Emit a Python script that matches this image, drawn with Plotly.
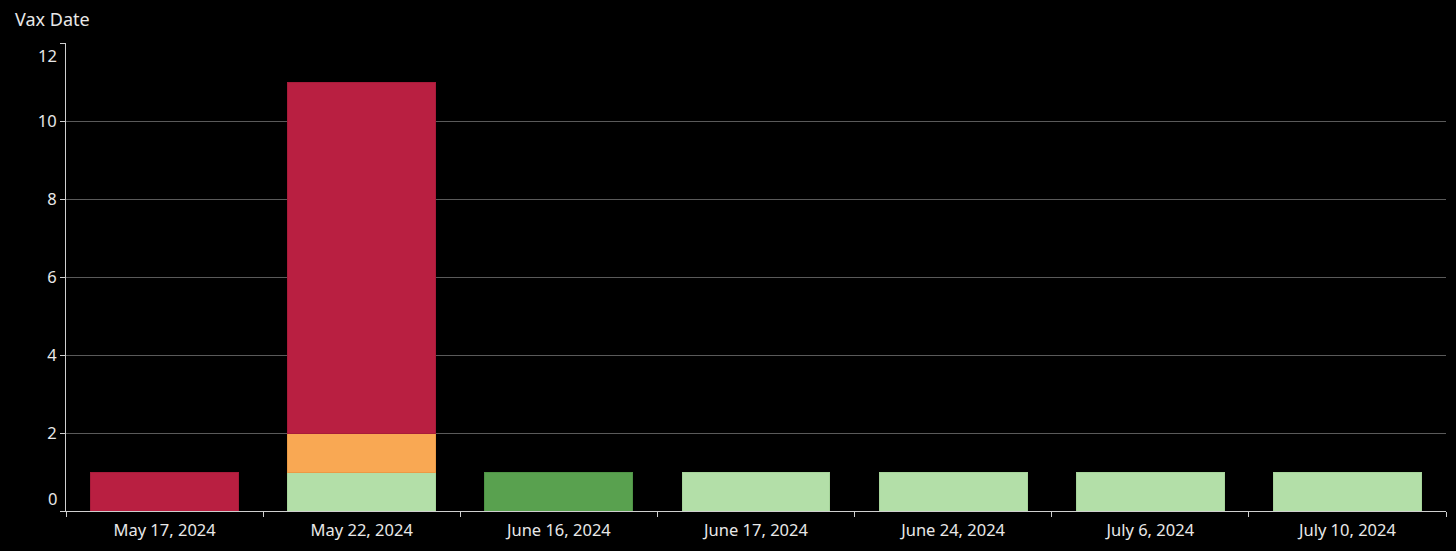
import plotly.graph_objects as go

categories = ["May 17, 2024", "May 22, 2024", "June 16, 2024", "June 17, 2024",
              "June 24, 2024", "July 6, 2024", "July 10, 2024"]

# stacked series (bottom to top)
light_green = [0, 1, 0, 1, 1, 1, 1]
dark_green = [0, 0, 1, 0, 0, 0, 0]
orange = [0, 1, 0, 0, 0, 0, 0]
red = [1, 9, 0, 0, 0, 0, 0]

y_ticks = [0, 2, 4, 6, 8, 10, 12]

series = [
    ("Light green", light_green, "#B3DFA8", "#A6D49A"),
    ("Dark green", dark_green, "#59A14F", "#4E9345"),
    ("Orange", orange, "#F9A853", "#EC9A45"),
    ("Red", red, "#B91F41", "#A81B3A"),
]

font_family = "Noto Sans, Lato, sans-serif"
txt = "#E8E8E8"

fig = go.Figure()
for name, vals, col, lcol in series:
    fig.add_trace(go.Bar(
        x=categories, y=[v if v else None for v in vals], name=name,
        marker=dict(color=col, line=dict(color=lcol, width=1)),
    ))

fig.update_layout(
    barmode="stack",
    bargap=0.25,
    width=1456, height=551,
    margin=dict(l=66, r=10, t=43, b=40),
    paper_bgcolor="black",
    plot_bgcolor="black",
    showlegend=False,
    font=dict(family=font_family, color=txt, size=16),
)

fig.update_xaxes(
    type="category",
    showgrid=False,
    showline=True, linecolor="#CFCFCF", linewidth=1,
    ticks="outside", tickson="boundaries", ticklen=5, tickcolor="#CFCFCF",
    tickfont=dict(size=16.5, color=txt),
    ticklabelstandoff=4,
    zeroline=False,
)

fig.update_yaxes(
    range=[0, 12],
    tickvals=y_ticks,
    ticktext=["" if v in (0, 12) else str(v) for v in y_ticks],
    showgrid=True, gridcolor="#5A5A5A", gridwidth=1,
    showline=True, linecolor="#CFCFCF", linewidth=1,
    ticks="outside", ticklen=5, tickcolor="#CFCFCF",
    tickfont=dict(size=16.5, color=txt),
    zeroline=False,
)

# end labels shifted inward (as in the reference)
fig.add_annotation(x=0, xref="paper", xanchor="right", xshift=-7,
                   y=0, yref="y", yanchor="middle", yshift=13,
                   text="0", showarrow=False, font=dict(size=16.5, color=txt))
fig.add_annotation(x=0, xref="paper", xanchor="right", xshift=-7,
                   y=12, yref="y", yanchor="middle", yshift=-12,
                   text="12", showarrow=False, font=dict(size=16.5, color=txt))

fig.add_annotation(x=0, xref="paper", y=1, yref="paper", xanchor="left",
                   yanchor="bottom", xshift=-53, yshift=10,
                   text="Vax Date", showarrow=False,
                   font=dict(size=18, color=txt))

fig.write_html(
    "out.html",
    config={"displayModeBar": False},
    post_script="document.body.style.margin='0';document.body.style.background='black';",
)
